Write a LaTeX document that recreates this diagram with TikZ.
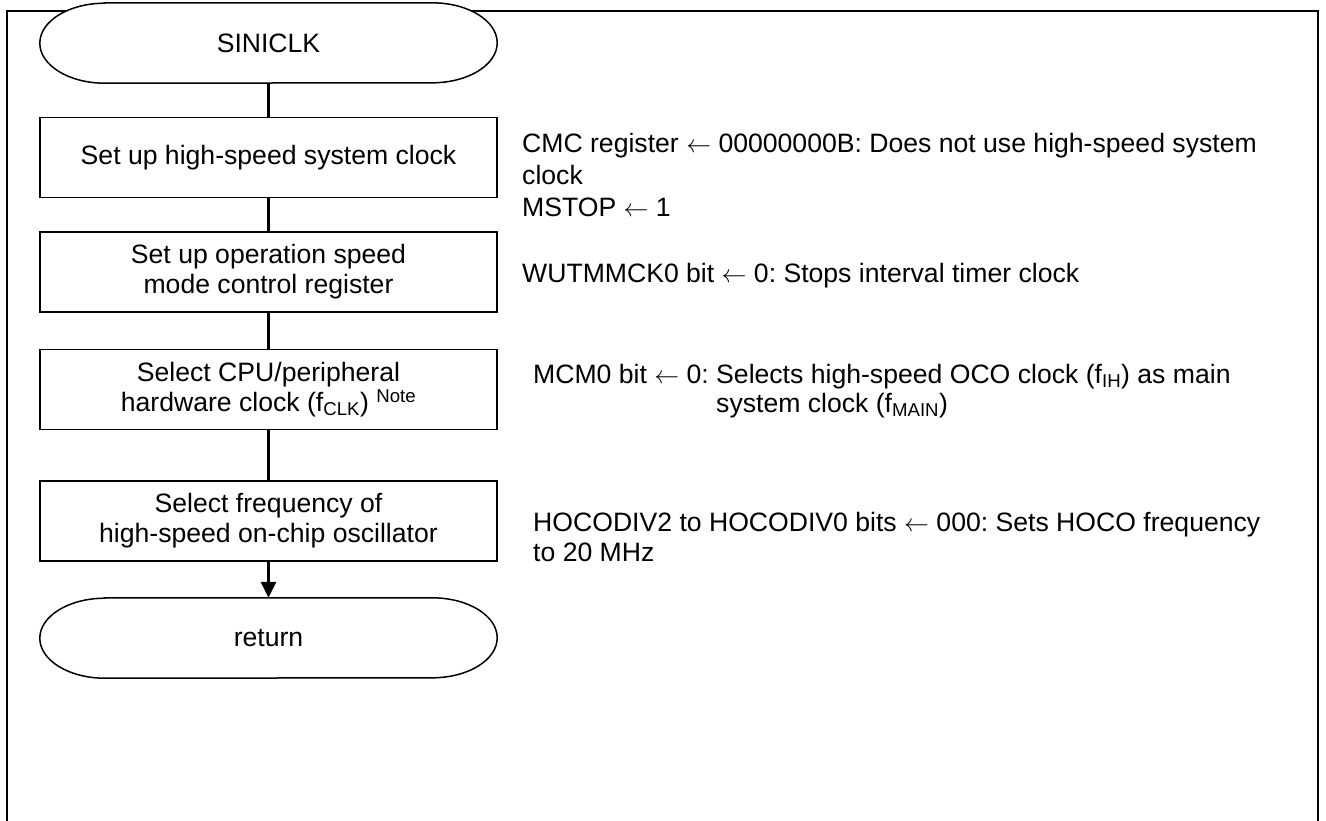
\documentclass[tikz,border=0pt]{standalone}
\usepackage{fontspec}
\setmainfont{Liberation Sans}
\usetikzlibrary{arrows.meta}
\frenchspacing
\pgfdeclarelayer{framelayer}
\pgfdeclarelayer{shapelayer}
\pgfsetlayers{framelayer,shapelayer,main}
\newcommand\termshape[1]{%
  \draw[line width=1.5pt, fill=white]
    ([xshift=65pt]#1.north west) -- ([xshift=-65pt]#1.north east)
    arc[start angle=90, end angle=-90, x radius=65pt, y radius=40pt]
    -- ([xshift=65pt]#1.south west)
    arc[start angle=270, end angle=90, x radius=65pt, y radius=40pt]
    -- cycle;}
\newcommand\larr{\ensuremath{\leftarrow}}
\begin{document}
\begin{tikzpicture}[x=1pt,y=-1pt,
  txt/.style={font=\fontsize{26.6}{30}\selectfont, align=center, inner sep=0pt},
  box/.style={draw, line width=1.5pt, minimum width=457pt, minimum height=80pt, txt},
  term/.style={minimum width=457pt, minimum height=80pt, txt},
  ann/.style={anchor=base west, align=left, inner sep=0pt},
  flow/.style={line width=3pt},
]
\clip (0,0) rectangle (1326,820);
\begin{pgfonlayer}{framelayer}
  \draw[line width=2pt] (7,11) rectangle (1318,850);
\end{pgfonlayer}

\node[term] (start) at (268.5,43) {SINICLK};
\node[box] (b1) at (268.5,157.5) {Set up high-speed system clock};
\node[box] (b2) at (268.5,272) {Set up operation speed\\mode control register};
\node[box] (b3) at (268.5,389.5) {Select CPU/peripheral\\hardware clock (f\textsubscript{CLK})~\textsuperscript{Note}};
\node[box] (b4) at (268.5,521) {Select frequency of\\high-speed on-chip oscillator};
\node[term] (ret) at (268.5,638) {return};

\begin{pgfonlayer}{shapelayer}
  \termshape{start}
  \termshape{ret}
\end{pgfonlayer}

\draw[flow] (start.south) -- (b1.north);
\draw[flow] (b1.south) -- (b2.north);
\draw[flow] (b2.south) -- (b3.north);
\draw[flow] (b3.south) -- (b4.north);
\draw[flow, -{Triangle[length=16pt, width=15pt]}] (b4.south) -- (ret.north);

% anchor base = baseline of the last line
\node[ann, font=\fontsize{26.6}{32}\selectfont] (a1) at (522,216)
  {CMC register \larr{} 00000000B: Does not use high-speed system\\clock\\MSTOP \larr{} 1};
\node[ann, font=\fontsize{26.6}{29}\selectfont] (a2) at (522,282)
  {WUTMMCK0 bit \larr{} 0: Stops interval timer clock};
\node[ann, font=\fontsize{26.6}{29}\selectfont] (a3) at (533,412)
  {MCM0 bit \larr{} 0: Selects high-speed OCO clock (f\textsubscript{IH}) as main\\\hphantom{MCM0 bit \larr{} 0: }system clock (f\textsubscript{MAIN})};
\node[ann, font=\fontsize{26.6}{29.5}\selectfont] (a4) at (533,561)
  {HOCODIV2 to HOCODIV0 bits \larr{} 000: Sets HOCO frequency\\to 20 MHz};
\end{tikzpicture}
\end{document}
